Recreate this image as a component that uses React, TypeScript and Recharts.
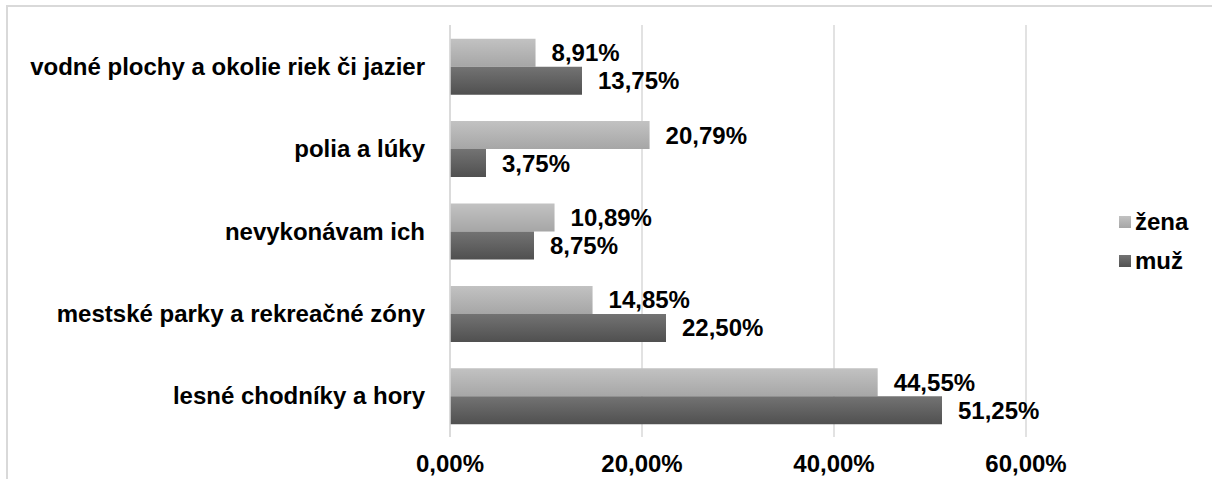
import { BarChart, Bar, XAxis, YAxis, CartesianGrid, LabelList } from 'recharts';

const categories = [
  'vodné plochy a okolie riek či jazier',
  'polia a lúky',
  'nevykonávam ich',
  'mestské parky a rekreačné zóny',
  'lesné chodníky a hory',
];
const zena = [8.91, 20.79, 10.89, 14.85, 44.55];
const muz = [13.75, 3.75, 8.75, 22.5, 51.25];
const xTicks = [0, 20, 40, 60];

const data = categories.map((name, i) => ({ name, zena: zena[i], muz: muz[i] }));

const FONT = '"Liberation Sans", Arial, sans-serif';
const FS = 24;
const pct = (v: any) => Number(v).toFixed(2).replace('.', ',') + '%';

const legendItems = [
  { label: 'žena', top: '#c2c2c2', bottom: '#a6a6a6' },
  { label: 'muž', top: '#737373', bottom: '#525252' },
];

function LegendBox() {
  return (
    <div style={{ position: 'absolute', left: 1119, top: 202, fontFamily: FONT, fontWeight: 'bold', fontSize: FS, color: '#000' }}>
      {legendItems.map((it, i) => (
        <div key={it.label} style={{ display: 'flex', alignItems: 'center', height: 39 }}>
          <svg width={12} height={12} style={{ marginRight: 4 }}>
            <defs>
              <linearGradient id={`lg${i}`} x1="0" y1="0" x2="0" y2="1">
                <stop offset="0%" stopColor={it.top} />
                <stop offset="100%" stopColor={it.bottom} />
              </linearGradient>
            </defs>
            <rect width={12} height={12} fill={`url(#lg${i})`} />
          </svg>
          <span>{it.label}</span>
        </div>
      ))}
    </div>
  );
}

export default function App() {
  return (
    <div style={{ position: 'absolute', left: 0, top: 0, width: 1212, height: 479, background: '#fff', overflow: 'hidden' }}>
      <svg width={1212} height={479} style={{ position: 'absolute', left: 0, top: 0 }}>
        <path d="M7 479 V6 H1212" fill="none" stroke="#d9d9d9" strokeWidth={2} />
      </svg>
      <BarChart
        width={1212}
        height={479}
        data={data}
        layout="vertical"
        margin={{ top: 25, right: 90, bottom: 0, left: 0 }}
        barCategoryGap="16.6%"
        barGap={0}
        style={{ position: 'absolute', left: 0, top: 0 }}
      >
        <defs>
          <linearGradient id="gZena" x1="0" y1="0" x2="0" y2="1">
            <stop offset="0%" stopColor="#c2c2c2" />
            <stop offset="100%" stopColor="#a6a6a6" />
          </linearGradient>
          <linearGradient id="gMuz" x1="0" y1="0" x2="0" y2="1">
            <stop offset="0%" stopColor="#737373" />
            <stop offset="100%" stopColor="#505050" />
          </linearGradient>
        </defs>
        <CartesianGrid horizontal={false} verticalValues={xTicks} stroke="#d9d9d9" strokeWidth={1.5} />
        <XAxis
          type="number"
          domain={[0, 70]}
          ticks={xTicks}
          tickFormatter={pct}
          axisLine={false}
          tickLine={false}
          tickSize={0}
          tickMargin={18}
          height={42}
          tick={{ fill: '#000', fontFamily: FONT, fontWeight: 'bold', fontSize: FS }}
        />
        <YAxis
          type="category"
          dataKey="name"
          width={450}
          axisLine={{ stroke: '#d9d9d9', strokeWidth: 1.5 }}
          tickLine={false}
          tickSize={0}
          tickMargin={25}
          tick={{ fill: '#000', fontFamily: FONT, fontWeight: 'bold', fontSize: FS }}
        />
        <Bar dataKey="zena" name="žena" fill="url(#gZena)" isAnimationActive={false}>
          <LabelList dataKey="zena" position="right" offset={16} formatter={pct} fill="#000" style={{ fontFamily: FONT, fontWeight: 'bold', fontSize: FS }} />
        </Bar>
        <Bar dataKey="muz" name="muž" fill="url(#gMuz)" isAnimationActive={false}>
          <LabelList dataKey="muz" position="right" offset={16} formatter={pct} fill="#000" style={{ fontFamily: FONT, fontWeight: 'bold', fontSize: FS }} />
        </Bar>
      </BarChart>
      <LegendBox />
    </div>
  );
}
